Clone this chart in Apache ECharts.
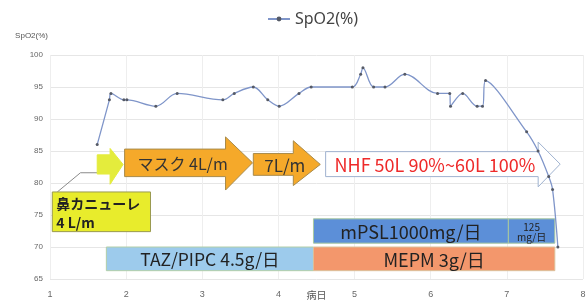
<!DOCTYPE html>
<html>
<head>
<meta charset="utf-8">
<script src="https://cdn.jsdelivr.net/npm/echarts@6/dist/echarts.min.js"></script>
<style>
  html, body { margin: 0; padding: 0; background: #fff; }
  #main { width: 588px; height: 302px; }
</style>
</head>
<body>
<div id="main"></div>
<script>
// SpO2 の推移（病日, %）
var days = [1.62, 1.78, 1.80, 1.97, 2.01, 2.39, 2.67, 3.27, 3.42, 3.67, 3.86, 4.01, 4.27, 4.43, 4.97, 5.08,
            5.11, 5.25, 5.40, 5.66, 6.09, 6.25, 6.26, 6.42, 6.61, 6.68, 6.72, 7.26, 7.41, 7.55, 7.60, 7.67];
var spo2 = [86, 93, 94, 93, 93, 92, 94, 93, 94, 95, 93, 92, 94, 95, 95, 97,
            98, 95, 95, 97, 94, 94, 92, 94, 92, 92, 96, 88, 85, 81, 79, 70];

var xTicks = [1, 2, 3, 4, 5, 6, 7, 8];
var yTicks = [65, 70, 75, 80, 85, 90, 95, 100];

// 酸素投与（矢印）
var oxyLabels = ['', 'マスク 4L/m', '7L/m', 'NHF 50L 90%~60L 100%'];
var oxyStart = [1.62, 1.98, 3.67, 4.62];
var oxyEnd = [1.96, 3.66, 4.55, 7.70];

// 薬剤（帯）
var drugLabels = ['TAZ/PIPC 4.5g/日', 'mPSL1000mg/日', '125\nmg/日', 'MEPM 3g/日'];
var drugStart = [1.74, 4.46, 7.02, 4.46];
var drugEnd = [4.46, 7.02, 7.63, 7.63];

// 鼻カニューレの吹き出し
var noteText = '鼻カニューレ\n4 L/m';
var noteRange = [1.03, 2.32];

// ---- 描画用の見た目 ----
var oxyStyle = [
  { bt: 84.4, bb: 81.4, ht: 85.4, hb: 79.8, head: 13, fill: '#e4ec3c', stroke: '#e4ec3c', color: '#333', dx: 0, size: 16 },
  { bt: 85.3, bb: 81.0, ht: 87.2, hb: 78.9, head: 27, fill: '#f5a92a', stroke: '#a88a4a', color: '#333', dx: -6, size: 16 },
  { bt: 84.6, bb: 81.2, ht: 86.6, hb: 79.6, head: 27, fill: '#f5a92a', stroke: '#a88a4a', color: '#333', dx: -2, size: 17 },
  { bt: 84.9, bb: 81.0, ht: 86.4, hb: 79.4, head: 22, fill: '#ffffff', stroke: '#9fb2cf', color: '#ee2a2a', dx: -8, size: 18 }
];
var drugStyle = [
  { top: 70.0, bot: 66.3, fill: '#9dcbec', stroke: '#b2cfa8', size: 17.5 },
  { top: 74.4, bot: 70.6, fill: '#5c8fd8', stroke: '#a9c9a0', size: 18 },
  { top: 74.4, bot: 70.6, fill: '#5c8fd8', stroke: '#a9c9a0', size: 10 },
  { top: 70.0, bot: 66.3, fill: '#f3976c', stroke: '#dcc09a', size: 18 }
];

function renderArrow(params, api) {
  var i = api.value(0);
  var s = oxyStyle[i];
  var x0 = api.coord([oxyStart[i], 0])[0];
  var tip = api.coord([oxyEnd[i], 0])[0];
  var xb = tip - s.head;
  var bt = api.coord([0, s.bt])[1], bb = api.coord([0, s.bb])[1];
  var ht = api.coord([0, s.ht])[1], hb = api.coord([0, s.hb])[1];
  var ym = (bt + bb) / 2;
  var children = [{
    type: 'polygon',
    shape: { points: [[x0, bt], [xb, bt], [xb, ht], [tip, ym], [xb, hb], [xb, bb], [x0, bb]] },
    style: { fill: s.fill, stroke: s.stroke, lineWidth: 1 }
  }];
  if (oxyLabels[i]) {
    children.push({
      type: 'text',
      style: {
        text: oxyLabels[i], x: (x0 + tip) / 2 + s.dx, y: ym + 1,
        fill: s.color, font: s.size + 'px "Noto Sans CJK JP"', align: 'center', verticalAlign: 'middle'
      }
    });
  }
  return { type: 'group', children: children };
}

function renderDrug(params, api) {
  var i = api.value(0);
  var s = drugStyle[i];
  var p0 = api.coord([drugStart[i], s.top]);
  var p1 = api.coord([drugEnd[i], s.bot]);
  return {
    type: 'group',
    children: [{
      type: 'rect',
      shape: { x: p0[0], y: p0[1], width: p1[0] - p0[0], height: p1[1] - p0[1] },
      style: { fill: s.fill, stroke: s.stroke, lineWidth: 1 }
    }, {
      type: 'text',
      style: {
        text: drugLabels[i], x: (p0[0] + p1[0]) / 2, y: (p0[1] + p1[1]) / 2 + 1,
        fill: '#222', font: s.size + 'px "Noto Sans CJK JP"', align: 'center', verticalAlign: 'middle',
        lineHeight: s.size
      }
    }]
  };
}

function renderNote(params, api) {
  var p0 = api.coord([noteRange[0], 78.6]);
  var p1 = api.coord([noteRange[1], 72.4]);
  var c1 = api.coord([1.40, 81.6]);
  var c2 = api.coord([oxyStart[0], 81.6]);
  return {
    type: 'group',
    children: [{
      type: 'polyline',
      shape: { points: [[p0[0] + 5, p0[1]], c1, c2] },
      style: { stroke: '#8a8a8a', lineWidth: 1, fill: null }
    }, {
      type: 'rect',
      shape: { x: p0[0], y: p0[1], width: p1[0] - p0[0], height: p1[1] - p0[1] },
      style: { fill: '#e8ec2c', stroke: '#9a9a50', lineWidth: 1 }
    }, {
      type: 'text',
      style: {
        text: noteText, x: p0[0] + 4, y: (p0[1] + p1[1]) / 2 + 1,
        fill: '#222', font: 'bold 14px "Noto Sans CJK JP"', align: 'left', verticalAlign: 'middle',
        lineHeight: 19
      }
    }]
  };
}

var chart = echarts.init(document.getElementById('main'));
var option = {
  animation: false,
  legend: {
    top: 6,
    left: 262,
    itemWidth: 22,
    itemHeight: 6,
    itemGap: 4,
    textStyle: { fontSize: 16, color: '#444', fontFamily: 'Noto Sans' },
    data: ['SpO2(%)']
  },
  grid: { left: 50, right: 5, top: 55, bottom: 23, outerBoundsMode: 'none' },
  xAxis: {
    type: 'value',
    min: xTicks[0],
    max: xTicks[xTicks.length - 1],
    interval: 1,
    name: '病日',
    nameLocation: 'middle',
    nameGap: 11,
    nameMoveOverlap: false,
    nameTextStyle: { fontSize: 10, color: '#555', fontFamily: 'Noto Sans CJK JP', verticalAlign: 'top' },
    axisLine: { show: false },
    axisTick: { show: false },
    axisLabel: { fontSize: 9, color: '#666', margin: 11 },
    splitLine: { show: true, lineStyle: { color: '#eeeeee' } }
  },
  yAxis: {
    type: 'value',
    min: yTicks[0],
    max: yTicks[yTicks.length - 1],
    interval: 5,
    name: 'SpO2(%)',
    nameLocation: 'end',
    nameGap: 15,
    nameTextStyle: { fontSize: 8, color: '#555', align: 'right', padding: [0, 2, 0, 0] },
    axisLine: { show: false },
    axisTick: { show: false },
    axisLabel: { fontSize: 8, color: '#666', margin: 7 },
    splitLine: { show: true, lineStyle: { color: '#e6e6e6' } }
  },
  series: [
    {
      type: 'custom',
      name: 'drugs',
      renderItem: renderDrug,
      data: drugLabels.map(function (d, i) { return [i]; }),
      encode: { x: -1, y: -1 },
      silent: true,
      z: 1
    },
    {
      type: 'custom',
      name: 'note',
      renderItem: renderNote,
      data: [[0]],
      encode: { x: -1, y: -1 },
      silent: true,
      z: 1
    },
    {
      type: 'custom',
      name: 'oxygen',
      renderItem: renderArrow,
      data: oxyLabels.map(function (d, i) { return [i]; }),
      encode: { x: -1, y: -1 },
      silent: true,
      z: 1
    },
    {
      name: 'SpO2(%)',
      type: 'line',
      smooth: 0.35,
      data: days.map(function (d, i) { return [d, spo2[i]]; }),
      symbol: 'circle',
      symbolSize: 3,
      itemStyle: { color: '#555a66' },
      lineStyle: { color: '#7f95c9', width: 1.3 },
      z: 5
    }
  ]
};
chart.setOption(option);
</script>
</body>
</html>
